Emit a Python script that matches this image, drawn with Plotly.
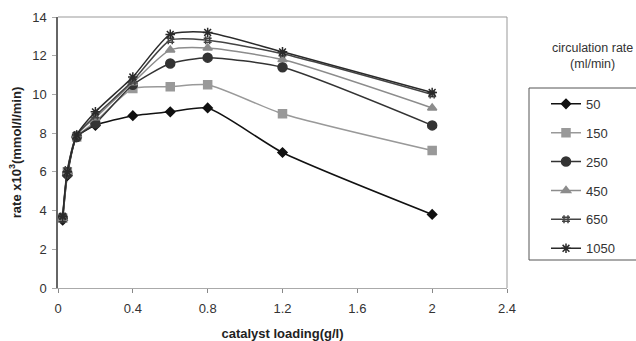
import plotly.graph_objects as go

loading = [0.025, 0.05, 0.1, 0.2, 0.4, 0.6, 0.8, 1.2, 2.0]
series_names = ["50", "150", "250", "450", "650", "1050"]
r50 = [3.5, 5.8, 7.8, 8.4, 8.9, 9.1, 9.3, 7.0, 3.8]
r150 = [3.6, 6.0, 7.8, 8.6, 10.3, 10.4, 10.5, 9.0, 7.1]
r250 = [3.6, 5.9, 7.8, 8.5, 10.5, 11.6, 11.9, 11.4, 8.4]
r450 = [3.6, 6.0, 7.9, 8.8, 10.6, 12.3, 12.4, 11.8, 9.3]
r650 = [3.7, 6.1, 7.9, 8.9, 10.7, 12.8, 12.8, 12.1, 10.0]
r1050 = [3.7, 6.0, 7.9, 9.1, 10.9, 13.1, 13.2, 12.2, 10.1]
x_ticks = [0, 0.4, 0.8, 1.2, 1.6, 2, 2.4]
y_ticks = [0, 2, 4, 6, 8, 10, 12, 14]

values = [r50, r150, r250, r450, r650, r1050]
colors = ["#111111", "#999999", "#333333", "#8c8c8c", "#444444", "#2a2a2a"]
symbols = ["diamond", "square", "circle", "triangle-up", "hash-open", "asterisk-open"]
sizes = [7, 8, 9, 8, 8, 8]

fig = go.Figure()
for name, v, c, s, sz in zip(series_names, values, colors, symbols, sizes):
    fig.add_trace(go.Scatter(
        x=loading, y=v, name=name, mode="lines+markers",
        line=dict(color=c, width=1.5, shape="spline", smoothing=0.6),
        marker=dict(symbol=s, size=sz, color=c, line=dict(color=c, width=1.5)),
        legendgroup=name,
    ))

font = "Liberation Sans, Arial, sans-serif"
W, L, R = 636, 58, 129
pw = W - L - R
fig.update_layout(
    width=636, height=341,
    margin=dict(l=L, r=R, t=17, b=53, autoexpand=False),
    paper_bgcolor="white", plot_bgcolor="white",
    font=dict(family=font, size=13, color="#333333"),
    showlegend=True,
    legend=dict(
        x=(546 - L) / pw, y=0.735, xanchor="left", yanchor="top",
        borderwidth=0, bgcolor="rgba(0,0,0,0)",
        font=dict(size=13, color="#333333"),
        tracegroupgap=9, traceorder="grouped",
        itemwidth=30,
    ),
    xaxis=dict(
        range=[0, 2.4], tickvals=x_ticks, ticktext=[str(t) for t in x_ticks],
        showgrid=False, zeroline=False, automargin=False,
        showline=True, linecolor="#aaaaaa", linewidth=1, mirror=False,
        ticks="outside", ticklen=4, tickcolor="#888888",
        ticklabelstandoff=4,
        title=dict(text="<b>catalyst loading(g/l)</b>", font=dict(size=13, color="#222222"), standoff=14),
    ),
    yaxis=dict(
        range=[0, 14], tickvals=y_ticks,
        showgrid=False, zeroline=False, automargin=False,
        showline=True, linecolor="#666666", linewidth=1.5,
        ticks="outside", ticklen=4, tickcolor="#aaaaaa",
        ticklabelstandoff=3,
        title=dict(text="<b>rate x10<sup>3</sup>(mmol/l/min)</b>", font=dict(size=13, color="#222222"), standoff=8),
    ),
    shapes=[
        dict(type="line", xref="paper", yref="paper", x0=0, x1=1, y0=1, y1=1,
             line=dict(color="#999999", width=1)),
        dict(type="line", xref="paper", yref="paper", x0=1, x1=1, y0=0, y1=1,
             line=dict(color="#999999", width=1)),
        dict(type="rect", xref="paper", yref="paper",
             x0=(529 - L) / pw, x1=(645 - L) / pw,
             y0=(288 - 260) / 271, y1=(288 - 88) / 271,
             line=dict(color="#555555", width=1), fillcolor="rgba(0,0,0,0)"),
    ],
    annotations=[
        dict(text="circulation rate<br>(ml/min)", xref="paper", yref="paper",
             x=(592 - L) / pw, y=(288 - 56) / 271, xanchor="center", yanchor="middle",
             showarrow=False, font=dict(size=12.5, color="#333333")),
    ],
)

fig.write_html("out.html")
